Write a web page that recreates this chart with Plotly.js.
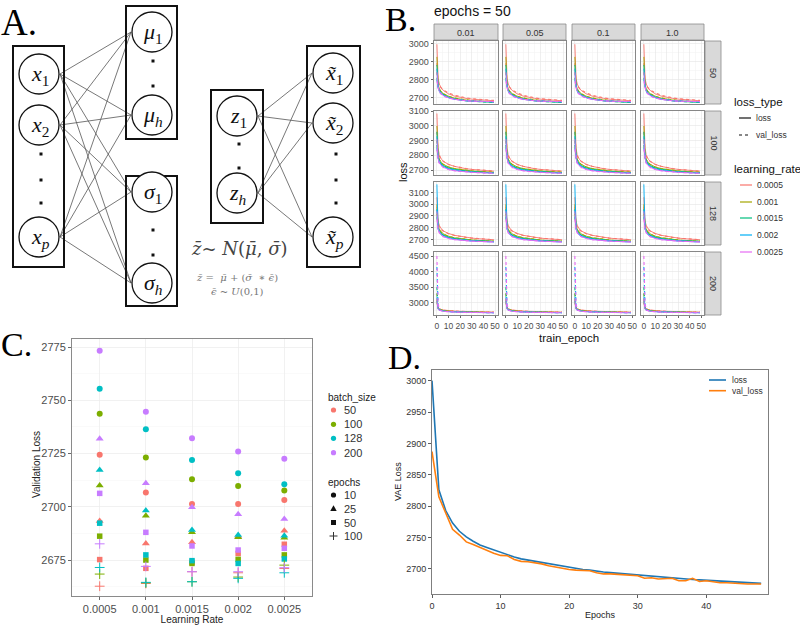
<!DOCTYPE html>
<html><head><meta charset="utf-8">
<script src="https://cdn.plot.ly/plotly-3.0.1.min.js"></script>
<style>html,body{margin:0;padding:0;background:#fff}</style>
</head><body><div id="chart" style="width:800px;height:625px"></div>
<script>
// ================= DATA =================
// ---- Panel B: loss curves, facet rows = batch size, cols = (param) ----
const bEpochs = [0,1,2,3,4,6,8,10,15,20,25,30,35,40,45,49];
const bFacetCols = ['0.01','0.05','0.1','1.0'];
const bFacetRows = ['50','100','128','200'];
const learningRates = ['0.0005','0.001','0.0015','0.002','0.0025'];
const lossTypes = ['loss','val_loss'];
// batch 50
const b50_loss_0005 = [2995,2810,2775,2760,2750,2737,2728,2720,2708,2700,2695,2691,2688,2685,2683,2682];
const b50_val_0005  = [2890,2790,2770,2758,2750,2740,2733,2725,2713,2704,2698,2693,2690,2687,2685,2684];
const b50_loss_001  = [2925,2775,2750,2738,2730,2720,2713,2707,2697,2690,2686,2682,2680,2678,2677,2676];
const b50_val_001   = [2840,2765,2745,2735,2728,2719,2712,2706,2697,2691,2686,2683,2680,2678,2677,2676];
const b50_loss_0015 = [2880,2765,2742,2731,2724,2715,2708,2702,2692,2686,2682,2679,2677,2675,2674,2673];
const b50_val_0015  = [2810,2758,2738,2729,2722,2713,2707,2701,2692,2686,2682,2679,2677,2675,2674,2673];
const b50_loss_002  = [2860,2760,2738,2728,2721,2712,2705,2700,2691,2685,2682,2680,2678,2677,2676,2676];
const b50_val_002   = [2800,2752,2735,2726,2719,2711,2704,2699,2691,2686,2683,2680,2679,2678,2677,2677];
const b50_loss_0025 = [2840,2755,2735,2725,2718,2709,2703,2698,2690,2685,2682,2680,2679,2678,2677,2677];
const b50_val_0025  = [2790,2748,2731,2722,2716,2708,2702,2697,2690,2685,2682,2680,2679,2678,2678,2677];
// batch 100
const b100_loss_0005 = [3085,2850,2805,2785,2772,2757,2746,2738,2725,2716,2709,2704,2700,2697,2694,2692];
const b100_val_0005  = [2960,2825,2795,2780,2770,2756,2746,2738,2726,2717,2710,2705,2701,2698,2695,2693];
const b100_loss_001  = [3000,2810,2775,2760,2750,2737,2728,2721,2710,2703,2698,2694,2691,2688,2686,2685];
const b100_val_001   = [2900,2795,2770,2756,2747,2735,2727,2720,2710,2703,2698,2694,2691,2688,2686,2685];
const b100_loss_0015 = [2960,2795,2765,2750,2741,2729,2720,2714,2704,2697,2692,2689,2686,2684,2682,2681];
const b100_val_0015  = [2870,2785,2760,2747,2738,2727,2719,2713,2703,2697,2692,2689,2686,2684,2682,2681];
const b100_loss_002  = [2930,2785,2757,2743,2734,2722,2714,2708,2699,2693,2689,2686,2684,2682,2680,2679];
const b100_val_002   = [2850,2777,2752,2740,2731,2720,2713,2707,2698,2693,2689,2686,2684,2682,2680,2679];
const b100_loss_0025 = [2910,2778,2750,2737,2728,2717,2709,2703,2695,2690,2686,2684,2682,2680,2679,2678];
const b100_val_0025  = [2840,2770,2746,2734,2726,2716,2708,2703,2695,2690,2686,2684,2682,2680,2679,2678];
// batch 128
const b128_loss_0005 = [3060,2860,2820,2800,2787,2770,2758,2750,2735,2725,2717,2711,2706,2702,2699,2697];
const b128_val_0005  = [2980,2840,2810,2793,2782,2767,2756,2748,2734,2724,2717,2711,2706,2702,2699,2697];
const b128_loss_001  = [3000,2825,2790,2772,2760,2745,2735,2727,2714,2706,2700,2695,2691,2688,2686,2685];
const b128_val_001   = [2920,2810,2782,2767,2756,2743,2734,2726,2714,2706,2700,2695,2691,2688,2686,2685];
const b128_loss_0015 = [2960,2805,2775,2760,2749,2735,2726,2719,2708,2700,2695,2691,2688,2685,2683,2682];
const b128_val_0015  = [2890,2795,2770,2756,2746,2733,2725,2718,2708,2700,2695,2691,2688,2685,2683,2682];
const b128_loss_002  = [3170,2800,2768,2752,2741,2728,2719,2713,2702,2695,2690,2687,2684,2682,2680,2679];
const b128_val_002   = [2950,2790,2762,2748,2738,2726,2718,2712,2702,2695,2690,2687,2684,2682,2680,2679];
const b128_loss_0025 = [2940,2790,2760,2745,2735,2722,2714,2708,2698,2692,2688,2685,2683,2681,2679,2678];
const b128_val_0025  = [2870,2782,2756,2742,2733,2721,2713,2707,2698,2692,2688,2685,2683,2681,2679,2678];
// batch 200
const b200_loss_0005 = [3150,2850,2810,2790,2778,2763,2752,2745,2732,2723,2716,2711,2706,2703,2700,2698];
const b200_val_0005  = [3000,2830,2800,2785,2774,2760,2750,2743,2731,2722,2716,2711,2706,2703,2700,2698];
const b200_loss_001  = [3100,2820,2785,2768,2757,2743,2733,2726,2714,2706,2700,2696,2692,2689,2687,2686];
const b200_val_001   = [3300,2810,2780,2764,2754,2741,2732,2725,2714,2706,2700,2696,2692,2689,2687,2686];
const b200_loss_0015 = [3050,2805,2772,2756,2746,2733,2724,2717,2706,2699,2694,2690,2687,2685,2683,2682];
const b200_val_0015  = [3500,2800,2768,2753,2743,2731,2723,2716,2706,2699,2694,2690,2687,2685,2683,2682];
const b200_loss_002  = [3200,2795,2764,2749,2739,2727,2718,2712,2702,2695,2690,2687,2684,2682,2680,2679];
const b200_val_002   = [4150,2900,2770,2750,2738,2726,2717,2711,2702,2695,2690,2687,2684,2682,2680,2679];
const b200_loss_0025 = [3100,2785,2757,2743,2733,2722,2714,2708,2699,2693,2688,2685,2683,2681,2679,2678];
const b200_val_0025  = [4500,3000,2780,2750,2735,2722,2713,2707,2699,2693,2688,2685,2683,2681,2679,2678];

// ---- Panel C: validation loss by learning rate ----
const cLearningRates = ['0.0005','0.001','0.0015','0.002','0.0025'];
const cBatchSizes = ['50','100','128','200'];
const cEpochs = ['10','25','50','100'];
const c50_ep10   = [2724.4,2706.7,2701.3,2701.3,2703.2];
const c50_ep25   = [2693.3,2682.8,2683.3,2686.0,2688.8];
const c50_ep50   = [2675.2,2671.1,2674.0,2678.1,2682.4];
const c50_ep100  = [2662.7,2664.0,2669.5,2669.0,2671.0];
const c100_ep10  = [2743.7,2723.1,2712.9,2709.8,2707.6];
const c100_ep25  = [2710.0,2695.8,2688.0,2685.7,2685.5];
const c100_ep50  = [2686.2,2675.0,2673.4,2675.3,2677.4];
const c100_ep100 = [2668.4,2664.3,2664.8,2667.0,2672.6];
const c128_ep10  = [2755.4,2736.4,2722.0,2715.8,2710.6];
const c128_ep25  = [2717.3,2698.2,2689.1,2686.8,2686.4];
const c128_ep50  = [2692.3,2677.4,2674.7,2673.4,2675.5];
const c128_ep100 = [2671.5,2664.5,2664.8,2666.4,2669.0];
const c200_ep10  = [2773.3,2744.6,2732.2,2726.0,2722.6];
const c200_ep25  = [2731.9,2711.1,2699.8,2696.5,2694.3];
const c200_ep50  = [2706.3,2688.0,2681.6,2679.7,2680.5];
const c200_ep100 = [2682.6,2672.0,2669.5,2669.5,2671.4];

// ---- Panel D: training history ----
const dEpochs = [0,1,2,3,4,5,6,7,8,9,10,11,12,13,14,15,16,17,18,19,20,21,22,23,24,25,26,27,28,29,30,31,32,33,34,35,36,37,38,39,40,41,42,43,44,45,46,47,48];
const dLoss = [3000,2826,2793,2773,2760,2751,2744,2738,2734,2730,2726,2722,2719,2716,2714,2712,2710,2708,2706,2704,2702,2701,2699,2698,2696,2695,2694,2693,2692,2691,2690,2689,2688,2687,2686,2685,2684.5,2684,2683,2682.5,2682,2681,2680.5,2680,2679.5,2679,2678,2677.5,2677];
const dValLoss = [2887,2815,2789,2763,2754,2743,2739,2734,2729,2725,2721.5,2721,2715,2712,2711.5,2710,2708,2705,2703,2700,2699,2698,2697,2697,2694,2692,2692,2691,2690,2690,2689,2685,2686,2684,2684,2685,2681,2681,2685,2680,2681,2679.5,2678,2678,2677,2676,2676,2676,2676];

// ================= LAYOUT HELPERS =================
const W = 800, H = 625;
const PX = x => x / W;
const PY = y => 1 - y / H;
const SANS = 'Liberation Sans, Arial, sans-serif';
const SERIF = 'Liberation Serif, DejaVu Serif, serif';
const traces = [];
const shapes = [];
const annotations = [];
const layout = {width: W, height: H, margin: {l:0, r:0, t:0, b:0}, paper_bgcolor: '#fff', plot_bgcolor: '#fff', showlegend: false, shapes, annotations};

function ann(text, x, y, o) {
  annotations.push(Object.assign({text, x: PX(x), y: PY(y), xref: 'paper', yref: 'paper', showarrow: false,
    xanchor: 'center', yanchor: 'middle', borderpad: 0, font: {family: SANS, size: 10, color: '#333'}}, o || {}));
}
function rect(x0, y0, x1, y1, line, fill) {
  shapes.push({type: 'rect', xref: 'paper', yref: 'paper', x0: PX(x0), x1: PX(x1), y0: PY(y1), y1: PY(y0), line, fillcolor: fill || 'rgba(0,0,0,0)', layer: 'above'});
}
function seg(x0, y0, x1, y1, line) {
  shapes.push({type: 'line', xref: 'paper', yref: 'paper', x0: PX(x0), x1: PX(x1), y0: PY(y0), y1: PY(y1), line, layer: 'above'});
}
function circ(cx, cy, r, line, fill) {
  shapes.push({type: 'circle', xref: 'paper', yref: 'paper', x0: PX(cx - r), x1: PX(cx + r), y0: PY(cy + r), y1: PY(cy - r), line, fillcolor: fill || 'rgba(0,0,0,0)', layer: 'above'});
}
function path(pts, line, fill) {
  const d = pts.map((p, i) => (i ? 'L' : 'M') + PX(p[0]).toFixed(5) + ',' + PY(p[1]).toFixed(5)).join(' ') + ' Z';
  shapes.push({type: 'path', xref: 'paper', yref: 'paper', path: d, line, fillcolor: fill, layer: 'above'});
}

// ================= PANEL A (diagram) =================
const boxLine = {color: '#111', width: 2};
const nodeLine = {color: '#111', width: 1.3};
const edgeLine = {color: '#555', width: 0.8};
const nodeFont = {family: SERIF, size: 22, color: '#111'};
const R = 20;
const inNodes = [[39,74,'<i>x</i><sub>1</sub>'],[39,125,'<i>x</i><sub>2</sub>'],[39,237,'<i>x</i><sub><i>p</i></sub>']];
const muNodes = [[152,32,'<i>μ</i><sub>1</sub>'],[152,115,'<i>μ</i><sub><i>h</i></sub>']];
const sgNodes = [[152,192,'<i>σ</i><sub>1</sub>'],[152,283,'<i>σ</i><sub><i>h</i></sub>']];
const zNodes = [[237,116,'<i>z</i><sub>1</sub>'],[237,193,'<i>z</i><sub><i>h</i></sub>']];
const outNodes = [[333,73,'<i>x̃</i><sub>1</sub>'],[333,123,'<i>x̃</i><sub>2</sub>'],[333,237,'<i>x̃</i><sub><i>p</i></sub>']];
// edges
inNodes.forEach(s => muNodes.concat(sgNodes).forEach(t => seg(s[0] + 21, s[1], t[0] - 21, t[1], edgeLine)));
zNodes.forEach(s => outNodes.forEach(t => seg(s[0] + 21, s[1], t[0] - 21, t[1], edgeLine)));
// boxes
rect(13, 46, 64, 267, boxLine);
rect(126, 6, 177, 139, boxLine);
rect(126, 176, 177, 306, boxLine);
rect(211, 90, 263, 223, boxLine);
rect(307, 46, 360, 267, boxLine);
// nodes
[].concat(inNodes, muNodes, sgNodes, zNodes, outNodes).forEach(n => {
  circ(n[0], n[1], R, nodeLine, '#fff');
  ann(n[2], n[0] + 1, n[1] + 1, {font: nodeFont});
});
// dots
const dots = [[41,154],[41,180],[41,203],[153,61],[153,86],[153,230],[153,255],[239,144],[239,168],[336,154],[336,180],[336,203]];
dots.forEach(d => rect(d[0] - 1.5, d[1] - 1.5, d[0] + 1.5, d[1] + 1.5, {width: 0}, '#111'));
const FSERIF = 'DejaVu Serif, Liberation Serif, serif';
ann('<i>z̄</i>~ <i>N</i>(<i>μ̄</i>, <i>σ̄</i>)', 239, 248, {font: {family: FSERIF, size: 18, color: '#444'}});
ann('<i>z̄</i> =  <i>μ̄</i> + (<i>σ̄</i>  ∗ <i>ϵ̄</i>)', 237, 277, {font: {family: FSERIF, size: 10, color: '#777'}});
ann('<i>ϵ̄</i> ~ <i>U</i>(0,1)', 237, 291, {font: {family: FSERIF, size: 10, color: '#777'}});

// panel letters
ann('A.', 0, 1, {xanchor: 'left', yanchor: 'top', font: {family: SERIF, size: 37, color: '#000'}});
ann('B.', 417, 0, {xanchor: 'right', yanchor: 'top', font: {family: SERIF, size: 34, color: '#000'}});
ann('C.', 0, 344, {xanchor: 'left', font: {family: SERIF, size: 34, color: '#000'}});
ann('D.', 422, 357, {xanchor: 'right', font: {family: SERIF, size: 34, color: '#000'}});

// ================= PANEL B =================
const lrColors = ['#F8766D','#A3A500','#00BF7D','#00B0F6','#E76BF3'];
const bSeries = {
  '50':  {loss: [b50_loss_0005,b50_loss_001,b50_loss_0015,b50_loss_002,b50_loss_0025], val_loss: [b50_val_0005,b50_val_001,b50_val_0015,b50_val_002,b50_val_0025]},
  '100': {loss: [b100_loss_0005,b100_loss_001,b100_loss_0015,b100_loss_002,b100_loss_0025], val_loss: [b100_val_0005,b100_val_001,b100_val_0015,b100_val_002,b100_val_0025]},
  '128': {loss: [b128_loss_0005,b128_loss_001,b128_loss_0015,b128_loss_002,b128_loss_0025], val_loss: [b128_val_0005,b128_val_001,b128_val_0015,b128_val_002,b128_val_0025]},
  '200': {loss: [b200_loss_0005,b200_loss_001,b200_loss_0015,b200_loss_002,b200_loss_0025], val_loss: [b200_val_0005,b200_val_001,b200_val_0015,b200_val_002,b200_val_0025]}
};
const bColPx = [[434,498],[503,566],[572,635],[641,704]];
const bRowPx = [[41,104],[111,175],[182,245],[252,315]];
const bYRange = [[2664,3013],[2666,3102],[2652,3190],[2605,4630]];
const bYDtick = [100,100,100,500];
const tickFontB = {family: SANS, size: 9, color: '#4D4D4D'};
const stripLine = {color: '#8a8a8a', width: 0.8};

bFacetRows.forEach((row, r) => {
  bFacetCols.forEach((col, c) => {
    const n = r * 4 + c + 1;
    const xk = n === 1 ? 'x' : 'x' + n, yk = n === 1 ? 'y' : 'y' + n;
    const bottom = r === 3, left = c === 0;
    layout['xaxis' + (n === 1 ? '' : n)] = {
      domain: [PX(bColPx[c][0]), PX(bColPx[c][1])], anchor: yk, range: [-2.5, 52.5],
      tickmode: 'linear', tick0: 0, dtick: 10, showticklabels: bottom, tickangle: 0, ticks: bottom ? 'outside' : '', ticklen: 2.5, tickcolor: '#444', tickwidth: 0.8,
      tickfont: {family: SANS, size: 8.5, color: '#4D4D4D'}, showgrid: true, gridcolor: '#E4E4E4', gridwidth: 0.6, zeroline: false,
      minor: {tick0: 5, dtick: 10, showgrid: true, gridcolor: '#F1F1F1', gridwidth: 0.5, ticks: ''},
      showline: true, mirror: true, linecolor: '#7a7a7a', linewidth: 0.9
    };
    layout['yaxis' + (n === 1 ? '' : n)] = {
      domain: [PY(bRowPx[r][1]), PY(bRowPx[r][0])], anchor: xk, range: bYRange[r],
      tickmode: 'linear', tick0: 0, dtick: bYDtick[r], showticklabels: left, ticks: left ? 'outside' : '', ticklen: 2.5, tickcolor: '#444', tickwidth: 0.8,
      tickfont: tickFontB, showgrid: true, gridcolor: '#E4E4E4', gridwidth: 0.6, zeroline: false,
      minor: {tick0: bYDtick[r] / 2, dtick: bYDtick[r], showgrid: true, gridcolor: '#F1F1F1', gridwidth: 0.5, ticks: ''},
      showline: true, mirror: true, linecolor: '#7a7a7a', linewidth: 0.9
    };
    learningRates.forEach((lr, i) => {
      lossTypes.forEach(lt => {
        traces.push({type: 'scatter', mode: 'lines', x: bEpochs, y: bSeries[row][lt][i], xaxis: xk, yaxis: yk,
          name: lr + ' ' + lt, line: {color: lrColors[i], width: lt === 'loss' ? 0.9 : 1.1, dash: lt === 'loss' ? 'solid' : 'dot'}, hoverinfo: 'skip'});
      });
    });
  });
});
// strips
bFacetCols.forEach((col, c) => {
  rect(bColPx[c][0], 24, bColPx[c][1], 40, stripLine, '#D9D9D9');
  ann(col, (bColPx[c][0] + bColPx[c][1]) / 2, 32.5, {font: {family: SANS, size: 9, color: '#333'}});
});
bFacetRows.forEach((row, r) => {
  rect(705, bRowPx[r][0], 721, bRowPx[r][1], stripLine, '#D9D9D9');
  ann(row, 713.5, (bRowPx[r][0] + bRowPx[r][1]) / 2, {textangle: 90, font: {family: SANS, size: 9, color: '#333'}});
});
ann('epochs = 50', 433, 11, {xanchor: 'left', font: {family: SANS, size: 14, color: '#111'}});
ann('loss', 403, 172, {textangle: -90, font: {family: SANS, size: 11, color: '#111'}});
ann('train_epoch', 569, 338, {font: {family: SANS, size: 11.5, color: '#111'}});
// B legend
ann('loss_type', 733, 102, {xanchor: 'left', font: {family: SANS, size: 11.5, color: '#111'}});
seg(739, 118, 751, 118, {color: '#111', width: 1.2});
ann('loss', 755, 118, {xanchor: 'left', font: {family: SANS, size: 8.5, color: '#333'}});
seg(739, 135, 751, 135, {color: '#111', width: 1.2, dash: 'dot'});
ann('val_loss', 755, 135, {xanchor: 'left', font: {family: SANS, size: 8.5, color: '#333'}});
ann('learning_rate', 733, 169, {xanchor: 'left', font: {family: SANS, size: 11.5, color: '#111'}});
const bLegY = [185, 202, 218, 235, 252];
learningRates.forEach((lr, i) => {
  seg(740, bLegY[i], 752, bLegY[i], {color: lrColors[i], width: 1.2});
  ann(lr, 756, bLegY[i], {xanchor: 'left', font: {family: SANS, size: 8.5, color: '#333'}});
});

// ================= PANEL C =================
const bsColors = ['#F8766D','#7CAE00','#00BFC4','#C77CFF'];
const epSymbols = ['circle','triangle-up','square','cross-thin'];
const epSizes = [6, 7, 5.5, 7];
const cSeries = {
  '50':  [c50_ep10, c50_ep25, c50_ep50, c50_ep100],
  '100': [c100_ep10, c100_ep25, c100_ep50, c100_ep100],
  '128': [c128_ep10, c128_ep25, c128_ep50, c128_ep100],
  '200': [c200_ep10, c200_ep25, c200_ep50, c200_ep100]
};
layout.xaxis17 = {domain: [PX(72), PX(312)], anchor: 'y17', type: 'category', categoryorder: 'array', categoryarray: cLearningRates,
  range: [-0.6, 4.6], ticks: 'outside', ticklen: 3, tickcolor: '#444', tickwidth: 0.8, tickfont: {family: SANS, size: 11, color: '#4D4D4D'},
  showgrid: true, gridcolor: '#EBEBEB', gridwidth: 0.7, zeroline: false, showline: true, mirror: true, linecolor: '#8a8a8a', linewidth: 1,
  title: {text: 'Learning Rate', standoff: 2, font: {family: SANS, size: 10, color: '#222'}}};
layout.yaxis17 = {domain: [PY(596), PY(339)], anchor: 'x17', range: [2658.1, 2778.8], tickmode: 'linear', tick0: 2650, dtick: 25,
  ticks: 'outside', ticklen: 3, tickcolor: '#444', tickwidth: 0.8, tickfont: {family: SANS, size: 11, color: '#4D4D4D'},
  showgrid: true, gridcolor: '#EBEBEB', gridwidth: 0.7, zeroline: false, showline: true, mirror: true, linecolor: '#8a8a8a', linewidth: 1,
  minor: {tick0: 2662.5, dtick: 25, showgrid: true, gridcolor: '#F5F5F5', gridwidth: 0.5, ticks: ''}};
ann('Validation Loss', 36, 465, {textangle: -90, font: {family: SANS, size: 10, color: '#222'}});
cEpochs.forEach((ep, e) => {
  cBatchSizes.forEach((bs, b) => {
    const m = {symbol: epSymbols[e], size: epSizes[e], color: bsColors[b]};
    if (epSymbols[e] === 'cross-thin') m.line = {color: bsColors[b], width: 1};
    traces.push({type: 'scatter', mode: 'markers', x: cLearningRates, y: cSeries[bs][e], xaxis: 'x17', yaxis: 'y17',
      name: 'bs ' + bs + ' ep ' + ep, marker: m, hoverinfo: 'skip'});
  });
});
// C legend (drawn)
ann('batch_size', 326.5, 397, {xanchor: 'left', font: {family: SANS, size: 10, color: '#222'}});
const cLegY1 = [410, 424.3, 438.3, 452.7];
cBatchSizes.forEach((bs, b) => {
  circ(333.5, cLegY1[b], 2.6, {width: 0}, bsColors[b]);
  ann(bs, 342.5, cLegY1[b], {xanchor: 'left', font: {family: SANS, size: 11, color: '#333'}});
});
ann('epochs', 326.5, 482, {xanchor: 'left', font: {family: SANS, size: 10, color: '#222'}});
const cLegY2 = [495, 508.5, 522.5, 536];
circ(333.5, cLegY2[0], 2.6, {width: 0}, '#111');
path([[333.5, cLegY2[1] - 3.2], [336.7, cLegY2[1] + 2.4], [330.3, cLegY2[1] + 2.4]], {width: 0}, '#111');
rect(331, cLegY2[2] - 2.5, 336, cLegY2[2] + 2.5, {width: 0}, '#111');
seg(329.5, cLegY2[3], 337.5, cLegY2[3], {color: '#333', width: 1});
seg(333.5, cLegY2[3] - 4, 333.5, cLegY2[3] + 4, {color: '#333', width: 1});
cEpochs.forEach((ep, e) => ann(ep, 342.5, cLegY2[e], {xanchor: 'left', font: {family: SANS, size: 11, color: '#333'}}));

// ================= PANEL D =================
layout.xaxis18 = {domain: [PX(432), PX(768)], anchor: 'y18', range: [0, 49], tickmode: 'linear', tick0: 0, dtick: 10,
  ticks: 'outside', ticklen: 3, tickcolor: '#333', tickwidth: 0.8, tickfont: {family: SANS, size: 9, color: '#333'},
  showgrid: false, zeroline: false, showline: true, mirror: true, linecolor: '#7f7f7f', linewidth: 1,
  title: {text: 'Epochs', standoff: 1, font: {family: SANS, size: 9, color: '#222'}}};
layout.yaxis18 = {domain: [PY(594), PY(370)], anchor: 'x18', range: [2660, 3017], tickmode: 'linear', tick0: 2700, dtick: 50,
  ticks: 'outside', ticklen: 3, tickcolor: '#333', tickwidth: 0.8, tickfont: {family: SANS, size: 9, color: '#333'},
  showgrid: false, zeroline: false, showline: true, mirror: true, linecolor: '#7f7f7f', linewidth: 1};
ann('VAE Loss', 398, 482, {textangle: -90, font: {family: SANS, size: 9, color: '#222'}});
traces.push({type: 'scatter', mode: 'lines', x: dEpochs, y: dLoss, xaxis: 'x18', yaxis: 'y18', name: 'loss', line: {color: '#1f77b4', width: 1.6}, hoverinfo: 'skip'});
traces.push({type: 'scatter', mode: 'lines', x: dEpochs, y: dValLoss, xaxis: 'x18', yaxis: 'y18', name: 'val_loss', line: {color: '#ff7f0e', width: 1.6}, hoverinfo: 'skip'});
seg(709, 380, 726, 380, {color: '#1f77b4', width: 1.6});
ann('loss', 730.5, 380, {xanchor: 'left', font: {family: SANS, size: 8.5, color: '#333'}});
seg(709, 390.7, 726, 390.7, {color: '#ff7f0e', width: 1.6});
ann('val_loss', 730.5, 390.7, {xanchor: 'left', font: {family: SANS, size: 8.5, color: '#333'}});

Plotly.newPlot('chart', traces, layout, {displayModeBar: false, staticPlot: true});
</script>
</body></html>
